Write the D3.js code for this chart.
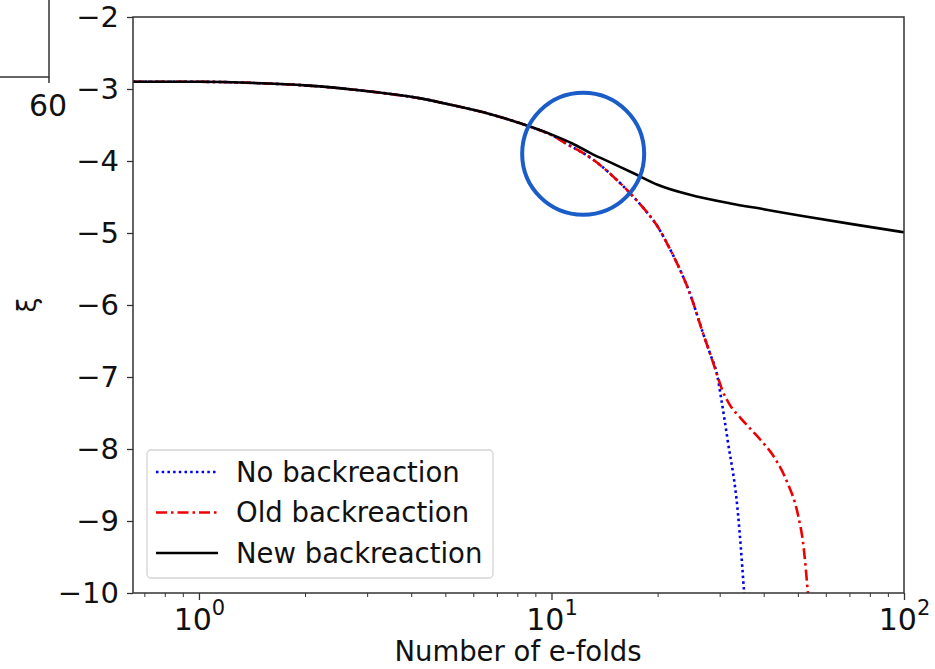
<!DOCTYPE html>
<html>
<head>
<meta charset="utf-8">
<script src="https://cdn.jsdelivr.net/npm/d3@7"></script>
<style>
  body { margin: 0; background: #fff; }
  svg { font-family: "DejaVu Sans", sans-serif; }
</style>
</head>
<body>
<div id="chart"></div>
<script>
// Number of e-folds (x) and xi (y) for each run
const newN  = [0.65, 1.0, 1.5, 2.0, 2.76, 3.5, 4.25, 5.3, 6.6, 8.2, 10.1, 11.5, 12.9, 15, 17.1, 20, 24.7, 32.2, 40, 51, 72, 100];
const newXi = [-2.90, -2.90, -2.92, -2.95, -3.01, -3.07, -3.13, -3.23, -3.34, -3.48, -3.64, -3.76, -3.89, -4.04, -4.17, -4.33, -4.47, -4.59, -4.67, -4.76, -4.88, -4.99];

const oldN  = [0.65, 1.0, 1.5, 2.0, 2.76, 3.5, 4.25, 5.3, 6.6, 8.2, 9.0, 10.1, 11.2, 12.2, 13.2, 15, 17.1, 18.5, 20, 21.3, 22.7, 24.7, 26.9, 28.2, 29.5, 30.5, 32, 34.4, 37, 39.2, 43.3, 46.7, 49.9, 51.9, 53.3, 53.6];
const oldXi = [-2.90, -2.90, -2.92, -2.95, -3.01, -3.07, -3.13, -3.23, -3.34, -3.48, -3.55, -3.65, -3.78, -3.88, -3.99, -4.22, -4.50, -4.69, -4.91, -5.15, -5.42, -5.84, -6.39, -6.68, -6.97, -7.18, -7.38, -7.57, -7.74, -7.875, -8.15, -8.47, -8.89, -9.36, -9.96, -10.1];

const noN  = [0.65, 1.0, 1.5, 2.0, 2.76, 3.5, 4.25, 5.3, 6.6, 8.2, 9.0, 10.1, 11.2, 12.2, 13.2, 15, 17.1, 18.5, 20, 21.3, 22.7, 24.7, 26.9, 28.2, 29.5, 30.3, 31.6, 33.8, 35.1, 35.3];
const noXi = [-2.90, -2.90, -2.92, -2.95, -3.01, -3.07, -3.13, -3.23, -3.34, -3.48, -3.55, -3.65, -3.78, -3.88, -3.99, -4.22, -4.50, -4.69, -4.91, -5.15, -5.42, -5.84, -6.39, -6.68, -6.97, -7.3, -7.875, -8.89, -9.92, -10.1];

const yTicks = [-2, -3, -4, -5, -6, -7, -8, -9, -10];
const xMajor = [1, 10, 100];
const xMinor = [0.7, 0.8, 0.9, 2, 3, 4, 5, 6, 7, 8, 9, 20, 30, 40, 50, 60, 70, 80, 90];
const legendLabels = ['No backreaction', 'Old backreaction', 'New backreaction'];

const WIDTH = 935;
const HEIGHT = 669;
const LEFT = 133, RIGHT = 904, TOP = 17, BOTTOM = 593;

const svg = d3.select('#chart')
    .append('svg')
    .attr('width', WIDTH)
    .attr('height', HEIGHT);

// Scales
const xScale = d3.scaleLog()
    .domain([0.65, 100])
    .range([LEFT, RIGHT]);

const yScale = d3.scaleLinear()
    .domain([-10, -2])
    .range([BOTTOM, TOP]);

// Leftover piece of the neighbouring panel (top-left)
const frag = svg.append('g').attr('stroke', '#333').attr('stroke-width', 1.5).attr('fill', 'none');
frag.append('path').attr('d', 'M0,77 H49 V0');
frag.append('line').attr('x1', 49).attr('x2', 49).attr('y1', 77).attr('y2', 83);
svg.append('text')
    .attr('x', 48).attr('y', 116)
    .attr('text-anchor', 'middle')
    .attr('font-size', 30)
    .attr('fill', '#111')
    .text('60');

// Clip
svg.append('clipPath').attr('id', 'plot-clip')
    .append('rect')
    .attr('x', LEFT).attr('y', TOP)
    .attr('width', RIGHT - LEFT).attr('height', BOTTOM - TOP);

// Axes
const xAxis = d3.axisBottom(xScale)
    .tickValues(xMajor)
    .tickSize(7)
    .tickFormat(() => '');
const gx = svg.append('g')
    .attr('class', 'x-axis')
    .attr('transform', `translate(0, ${BOTTOM})`)
    .call(xAxis);
gx.select('.domain').remove();
gx.selectAll('.tick line').attr('stroke', '#333').attr('stroke-width', 1.3);
gx.selectAll('.tick text')
    .attr('font-size', 30)
    .attr('font-family', '"DejaVu Sans", sans-serif')
    .attr('fill', '#111')
    .attr('y', 37)
    .attr('dy', 0)
    .each(function(d) {
        const t = d3.select(this);
        t.append('tspan').text('10');
        t.append('tspan')
            .attr('font-size', 21)
            .attr('dy', -15)
            .text(Math.round(Math.log10(d)));
    });

const xMinorAxis = d3.axisBottom(xScale)
    .tickValues(xMinor)
    .tickSize(4)
    .tickFormat('');
const gxm = svg.append('g')
    .attr('transform', `translate(0, ${BOTTOM})`)
    .call(xMinorAxis);
gxm.select('.domain').remove();
gxm.selectAll('.tick line').attr('stroke', '#333').attr('stroke-width', 1);

const yAxis = d3.axisLeft(yScale)
    .tickValues(yTicks)
    .tickSize(6)
    .tickPadding(8)
    .tickFormat(d3.format('d'));
const gy = svg.append('g')
    .attr('class', 'y-axis')
    .attr('transform', `translate(${LEFT}, 0)`)
    .call(yAxis);
gy.select('.domain').remove();
gy.selectAll('.tick line').attr('stroke', '#333').attr('stroke-width', 1.3);
gy.selectAll('.tick text')
    .attr('font-size', 29)
    .attr('fill', '#111')
    .attr('font-family', '"DejaVu Sans", sans-serif');

// Axis labels
svg.append('text')
    .attr('x', 518)
    .attr('y', 661)
    .attr('text-anchor', 'middle')
    .attr('font-size', 27.5)
    .attr('fill', '#111')
    .text('Number of e-folds');

svg.append('text')
    .attr('transform', `translate(36, ${(TOP + BOTTOM) / 2}) rotate(-90)`)
    .attr('text-anchor', 'middle')
    .attr('font-size', 27)
    .attr('fill', '#111')
    .text('ξ');

// Lines
const line = d3.line()
    .x(d => xScale(d[0]))
    .y(d => yScale(d[1]))
    .curve(d3.curveMonotoneX);

const series = [
    { n: noN, xi: noXi, color: '#0000ee', dash: '2.5,3.2' },
    { n: oldN, xi: oldXi, color: '#ee0000', dash: '11,4,2.5,4' },
    { n: newN, xi: newXi, color: '#000000', dash: null }
];

const plot = svg.append('g').attr('clip-path', 'url(#plot-clip)');
series.forEach(s => {
    plot.append('path')
        .datum(d3.zip(s.n, s.xi))
        .attr('fill', 'none')
        .attr('stroke', s.color)
        .attr('stroke-width', 2.6)
        .attr('stroke-dasharray', s.dash)
        .attr('d', line);
});

// Frame
svg.append('rect')
    .attr('x', LEFT).attr('y', TOP)
    .attr('width', RIGHT - LEFT).attr('height', BOTTOM - TOP)
    .attr('fill', 'none')
    .attr('stroke', '#333')
    .attr('stroke-width', 1.5);

// Highlight circle
svg.append('circle')
    .attr('cx', xScale(12.3))
    .attr('cy', yScale(-3.9))
    .attr('r', 61)
    .attr('fill', 'none')
    .attr('stroke', '#1a5cc8')
    .attr('stroke-width', 4);

// Legend
const legend = svg.append('g');
legend.append('rect')
    .attr('x', 147).attr('y', 450)
    .attr('width', 346).attr('height', 128)
    .attr('rx', 4)
    .attr('fill', '#fff')
    .attr('fill-opacity', 0.85)
    .attr('stroke', '#d4d4d4')
    .attr('stroke-width', 1.3);

legend.selectAll('g.item')
    .data(series)
    .enter()
    .append('g')
    .attr('class', 'item')
    .attr('transform', (d, i) => `translate(0, ${472 + i * 40.5})`)
    .each(function(d, i) {
        const g = d3.select(this);
        g.append('line')
            .attr('x1', 156).attr('x2', 218)
            .attr('stroke', d.color)
            .attr('stroke-width', 2.6)
            .attr('stroke-dasharray', d.dash);
        g.append('text')
            .attr('x', 236)
            .attr('dy', '0.36em')
            .attr('font-size', 27.5)
            .attr('fill', '#111')
            .attr('font-family', '"DejaVu Sans", sans-serif')
            .text(legendLabels[i]);
    });
</script>
</body>
</html>
